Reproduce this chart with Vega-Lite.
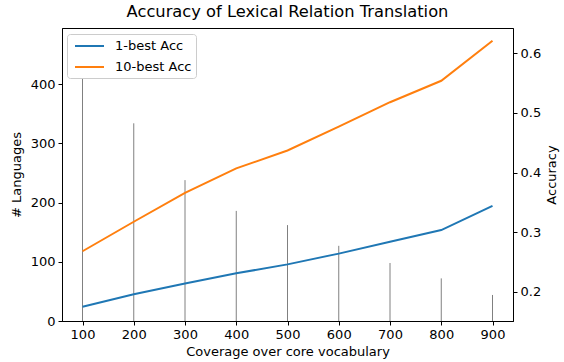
{
  "$schema": "https://vega.github.io/schema/vega-lite/v6.json",
  "width": 451,
  "height": 293,
  "autosize": {"type": "none"},
  "padding": {"left": 62, "top": 28, "right": 51, "bottom": 41},
  "title": {"text": "Accuracy of Lexical Relation Translation", "fontSize": 16.3, "font": "DejaVu Sans", "fontWeight": "normal", "color": "black", "offset": 8},
  "datasets": {
    "counts": [
      {"coverage": 100, "languages": 473},
      {"coverage": 200, "languages": 334},
      {"coverage": 300, "languages": 238},
      {"coverage": 400, "languages": 186},
      {"coverage": 500, "languages": 162},
      {"coverage": 600, "languages": 127},
      {"coverage": 700, "languages": 98},
      {"coverage": 800, "languages": 72},
      {"coverage": 900, "languages": 44}
    ],
    "acc": [
      {"coverage": 100, "series": "1-best Acc", "accuracy": 0.175},
      {"coverage": 200, "series": "1-best Acc", "accuracy": 0.196},
      {"coverage": 300, "series": "1-best Acc", "accuracy": 0.214},
      {"coverage": 400, "series": "1-best Acc", "accuracy": 0.231},
      {"coverage": 500, "series": "1-best Acc", "accuracy": 0.246},
      {"coverage": 600, "series": "1-best Acc", "accuracy": 0.264},
      {"coverage": 700, "series": "1-best Acc", "accuracy": 0.284},
      {"coverage": 800, "series": "1-best Acc", "accuracy": 0.3035},
      {"coverage": 900, "series": "1-best Acc", "accuracy": 0.344},
      {"coverage": 100, "series": "10-best Acc", "accuracy": 0.268},
      {"coverage": 200, "series": "10-best Acc", "accuracy": 0.3175},
      {"coverage": 300, "series": "10-best Acc", "accuracy": 0.366},
      {"coverage": 400, "series": "10-best Acc", "accuracy": 0.407},
      {"coverage": 500, "series": "10-best Acc", "accuracy": 0.437},
      {"coverage": 600, "series": "10-best Acc", "accuracy": 0.477},
      {"coverage": 700, "series": "10-best Acc", "accuracy": 0.518},
      {"coverage": 800, "series": "10-best Acc", "accuracy": 0.554},
      {"coverage": 900, "series": "10-best Acc", "accuracy": 0.621}
    ]
  },
  "layer": [
    {
      "data": {"name": "counts"},
      "mark": {"type": "rule", "color": "#808080", "strokeWidth": 1},
      "encoding": {
        "x": {"field": "coverage", "type": "quantitative", "scale": {"domain": [60, 940], "nice": false, "zero": false},
              "axis": {"values": [100, 200, 300, 400, 500, 600, 700, 800, 900], "title": "Coverage over core vocabulary", "titlePadding": 4}},
        "y": {"field": "languages", "type": "quantitative", "scale": {"domain": [0, 495], "nice": false},
              "axis": {"values": [0, 100, 200, 300, 400], "title": "# Languages", "titlePadding": 7}},
        "y2": {"datum": 0}
      }
    },
    {
      "data": {"name": "acc"},
      "mark": {"type": "line", "strokeWidth": 2},
      "encoding": {
        "x": {"field": "coverage", "type": "quantitative"},
        "y": {"field": "accuracy", "type": "quantitative", "scale": {"domain": [0.151, 0.6425], "nice": false, "zero": false},
              "axis": {"orient": "right", "values": [0.2, 0.3, 0.4, 0.5, 0.6], "format": ".1f", "title": "Accuracy", "titleAngle": 270, "titleBaseline": "top", "titlePadding": 5}},
        "color": {"field": "series", "type": "nominal",
                  "scale": {"domain": ["1-best Acc", "10-best Acc"], "range": ["#1f77b4", "#ff7f0e"]},
                  "legend": {"orient": "none", "legendX": 5, "legendY": 6, "title": null}}
      }
    }
  ],
  "resolve": {"scale": {"y": "independent"}},
  "config": {
    "view": {"stroke": "black", "strokeWidth": 1},
    "font": "DejaVu Sans",
    "axis": {
      "grid": false,
      "domainColor": "black",
      "tickColor": "black",
      "tickSize": 4,
      "labelColor": "black",
      "labelFont": "DejaVu Sans",
      "labelFontSize": 13,
      "labelPadding": 3,
      "titleFont": "DejaVu Sans",
      "titleFontSize": 13,
      "titleFontWeight": "normal",
      "titleColor": "black"
    },
    "legend": {
      "symbolType": "M-0.571,0L3.57,0",
      "symbolSize": 196,
      "symbolStrokeWidth": 2,
      "labelFont": "DejaVu Sans",
      "labelFontSize": 13,
      "labelColor": "black",
      "labelOffset": 28,
      "padding": 4,
      "rowPadding": 6,
      "fillColor": "white",
      "strokeColor": "#cccccc",
      "cornerRadius": 3
    }
  }
}
